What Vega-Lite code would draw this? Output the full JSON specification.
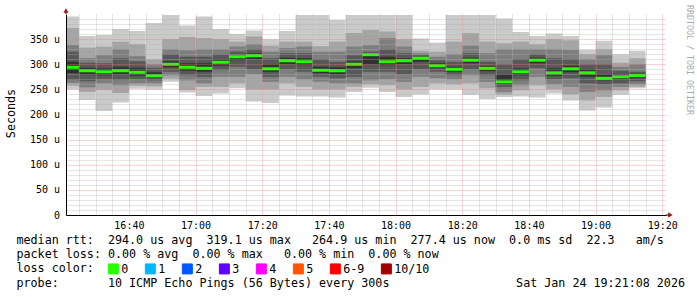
{
  "$schema": "https://vega.github.io/schema/vega-lite/v6.json",
  "width": 600,
  "height": 201,
  "autosize": {"type": "none"},
  "padding": {"left": 66, "top": 14, "right": 31, "bottom": 82},
  "background": "white",
  "title": {"text": "RRDTOOL / TOBI OETIKER", "orient": "right", "anchor": "start", "frame": "group", "angle": 90, "align": "left", "baseline": "middle", "offset": -3.5, "dx": -9, "font": "DejaVu Sans Mono", "fontSize": 8.3, "fontWeight": "normal", "color": "#aaaaaa"},
  "config": {
    "view": {"stroke": null},
    "axis": {"labelFont": "DejaVu Sans Mono", "titleFont": "DejaVu Sans Mono", "labelColor": "#000", "titleColor": "#000", "domainColor": "#000", "domainWidth": 1, "ticks": false, "gridDash": [1, 1], "gridWidth": 1, "labelFontSize": 10, "titleFontSize": 11.7, "titleFontWeight": "normal"}
  },
  "datasets": {
    "pings": [
      {"t0": "2026-01-24T16:20:00", "t1": "2026-01-24T16:25:00", "p1": 250, "p2": 257, "p3": 263, "p4": 269, "p5": 282, "median": 294, "p6": 305, "p7": 325, "p8": 338, "p9": 372, "p10": 395, "loss": "0"},
      {"t0": "2026-01-24T16:25:00", "t1": "2026-01-24T16:30:00", "p1": 229, "p2": 245, "p3": 254, "p4": 266, "p5": 279, "median": 287, "p6": 293, "p7": 303, "p8": 312, "p9": 333, "p10": 356, "loss": "0"},
      {"t0": "2026-01-24T16:30:00", "t1": "2026-01-24T16:35:00", "p1": 207, "p2": 249, "p3": 262, "p4": 270, "p5": 278, "median": 285, "p6": 292, "p7": 302, "p8": 318, "p9": 335, "p10": 358, "loss": "0"},
      {"t0": "2026-01-24T16:35:00", "t1": "2026-01-24T16:40:00", "p1": 224, "p2": 243, "p3": 258, "p4": 269, "p5": 280, "median": 287, "p6": 295, "p7": 312, "p8": 330, "p9": 345, "p10": 370, "loss": "0"},
      {"t0": "2026-01-24T16:40:00", "t1": "2026-01-24T16:45:00", "p1": 251, "p2": 257, "p3": 262, "p4": 270, "p5": 277, "median": 284, "p6": 293, "p7": 306, "p8": 316, "p9": 340, "p10": 366, "loss": "0"},
      {"t0": "2026-01-24T16:45:00", "t1": "2026-01-24T16:50:00", "p1": 250, "p2": 256, "p3": 262, "p4": 268, "p5": 273, "median": 277, "p6": 284, "p7": 293, "p8": 300, "p9": 310, "p10": 382, "loss": "0"},
      {"t0": "2026-01-24T16:50:00", "t1": "2026-01-24T16:55:00", "p1": 265, "p2": 271, "p3": 278, "p4": 285, "p5": 294, "median": 300, "p6": 306, "p7": 320, "p8": 330, "p9": 350, "p10": 398, "loss": "0"},
      {"t0": "2026-01-24T16:55:00", "t1": "2026-01-24T17:00:00", "p1": 244, "p2": 249, "p3": 268, "p4": 278, "p5": 287, "median": 294, "p6": 302, "p7": 315, "p8": 328, "p9": 354, "p10": 377, "loss": "0"},
      {"t0": "2026-01-24T17:00:00", "t1": "2026-01-24T17:05:00", "p1": 237, "p2": 255, "p3": 262, "p4": 275, "p5": 285, "median": 292, "p6": 302, "p7": 315, "p8": 330, "p9": 352, "p10": 395, "loss": "0"},
      {"t0": "2026-01-24T17:05:00", "t1": "2026-01-24T17:10:00", "p1": 242, "p2": 255, "p3": 275, "p4": 288, "p5": 297, "median": 304, "p6": 310, "p7": 320, "p8": 330, "p9": 350, "p10": 370, "loss": "0"},
      {"t0": "2026-01-24T17:10:00", "t1": "2026-01-24T17:15:00", "p1": 252, "p2": 262, "p3": 275, "p4": 295, "p5": 308, "median": 315, "p6": 318, "p7": 325, "p8": 335, "p9": 345, "p10": 360, "loss": "0"},
      {"t0": "2026-01-24T17:15:00", "t1": "2026-01-24T17:20:00", "p1": 226, "p2": 250, "p3": 280, "p4": 290, "p5": 310, "median": 317, "p6": 322, "p7": 330, "p8": 340, "p9": 355, "p10": 367, "loss": "0"},
      {"t0": "2026-01-24T17:20:00", "t1": "2026-01-24T17:25:00", "p1": 223, "p2": 250, "p3": 265, "p4": 275, "p5": 285, "median": 291, "p6": 300, "p7": 312, "p8": 325, "p9": 337, "p10": 350, "loss": "0"},
      {"t0": "2026-01-24T17:25:00", "t1": "2026-01-24T17:30:00", "p1": 238, "p2": 262, "p3": 275, "p4": 290, "p5": 300, "median": 307, "p6": 313, "p7": 322, "p8": 332, "p9": 345, "p10": 366, "loss": "0"},
      {"t0": "2026-01-24T17:30:00", "t1": "2026-01-24T17:35:00", "p1": 236, "p2": 255, "p3": 270, "p4": 285, "p5": 298, "median": 305, "p6": 312, "p7": 322, "p8": 335, "p9": 345, "p10": 398, "loss": "0"},
      {"t0": "2026-01-24T17:35:00", "t1": "2026-01-24T17:40:00", "p1": 236, "p2": 250, "p3": 265, "p4": 275, "p5": 282, "median": 288, "p6": 295, "p7": 310, "p8": 325, "p9": 336, "p10": 398, "loss": "0"},
      {"t0": "2026-01-24T17:40:00", "t1": "2026-01-24T17:45:00", "p1": 234, "p2": 250, "p3": 262, "p4": 272, "p5": 280, "median": 287, "p6": 294, "p7": 305, "p8": 325, "p9": 345, "p10": 388, "loss": "0"},
      {"t0": "2026-01-24T17:45:00", "t1": "2026-01-24T17:50:00", "p1": 245, "p2": 255, "p3": 262, "p4": 275, "p5": 292, "median": 300, "p6": 306, "p7": 318, "p8": 335, "p9": 362, "p10": 398, "loss": "0"},
      {"t0": "2026-01-24T17:50:00", "t1": "2026-01-24T17:55:00", "p1": 253, "p2": 260, "p3": 268, "p4": 285, "p5": 300, "median": 319.1, "p6": 322, "p7": 325, "p8": 338, "p9": 368, "p10": 398, "loss": "0"},
      {"t0": "2026-01-24T17:55:00", "t1": "2026-01-24T18:00:00", "p1": 245, "p2": 258, "p3": 270, "p4": 285, "p5": 298, "median": 305, "p6": 315, "p7": 330, "p8": 352, "p9": 365, "p10": 398, "loss": "0"},
      {"t0": "2026-01-24T18:00:00", "t1": "2026-01-24T18:05:00", "p1": 235, "p2": 250, "p3": 265, "p4": 280, "p5": 300, "median": 307, "p6": 312, "p7": 322, "p8": 335, "p9": 350, "p10": 398, "loss": "0"},
      {"t0": "2026-01-24T18:05:00", "t1": "2026-01-24T18:10:00", "p1": 240, "p2": 255, "p3": 275, "p4": 290, "p5": 305, "median": 312, "p6": 315, "p7": 318, "p8": 322, "p9": 327, "p10": 351, "loss": "0"},
      {"t0": "2026-01-24T18:10:00", "t1": "2026-01-24T18:15:00", "p1": 250, "p2": 262, "p3": 272, "p4": 285, "p5": 292, "median": 297, "p6": 302, "p7": 308, "p8": 315, "p9": 325, "p10": 343, "loss": "0"},
      {"t0": "2026-01-24T18:15:00", "t1": "2026-01-24T18:20:00", "p1": 250, "p2": 260, "p3": 270, "p4": 278, "p5": 285, "median": 290, "p6": 295, "p7": 305, "p8": 320, "p9": 345, "p10": 398, "loss": "0"},
      {"t0": "2026-01-24T18:20:00", "t1": "2026-01-24T18:25:00", "p1": 239, "p2": 262, "p3": 278, "p4": 290, "p5": 302, "median": 308, "p6": 313, "p7": 322, "p8": 337, "p9": 362, "p10": 398, "loss": "0"},
      {"t0": "2026-01-24T18:25:00", "t1": "2026-01-24T18:30:00", "p1": 231, "p2": 252, "p3": 265, "p4": 278, "p5": 286, "median": 292, "p6": 297, "p7": 305, "p8": 322, "p9": 345, "p10": 398, "loss": "0"},
      {"t0": "2026-01-24T18:30:00", "t1": "2026-01-24T18:35:00", "p1": 235, "p2": 240, "p3": 245, "p4": 255, "p5": 260, "median": 264.9, "p6": 280, "p7": 300, "p8": 330, "p9": 342, "p10": 391, "loss": "0"},
      {"t0": "2026-01-24T18:35:00", "t1": "2026-01-24T18:40:00", "p1": 236, "p2": 248, "p3": 258, "p4": 268, "p5": 278, "median": 285, "p6": 292, "p7": 310, "p8": 330, "p9": 345, "p10": 364, "loss": "0"},
      {"t0": "2026-01-24T18:40:00", "t1": "2026-01-24T18:45:00", "p1": 234, "p2": 258, "p3": 275, "p4": 292, "p5": 302, "median": 308, "p6": 313, "p7": 320, "p8": 330, "p9": 340, "p10": 356, "loss": "0"},
      {"t0": "2026-01-24T18:45:00", "t1": "2026-01-24T18:50:00", "p1": 242, "p2": 250, "p3": 260, "p4": 270, "p5": 277, "median": 283, "p6": 292, "p7": 312, "p8": 330, "p9": 350, "p10": 361, "loss": "0"},
      {"t0": "2026-01-24T18:50:00", "t1": "2026-01-24T18:55:00", "p1": 228, "p2": 240, "p3": 255, "p4": 272, "p5": 284, "median": 291, "p6": 297, "p7": 310, "p8": 329, "p9": 348, "p10": 356, "loss": "0"},
      {"t0": "2026-01-24T18:55:00", "t1": "2026-01-24T19:00:00", "p1": 208, "p2": 228, "p3": 245, "p4": 262, "p5": 275, "median": 283, "p6": 290, "p7": 300, "p8": 310, "p9": 320, "p10": 329, "loss": "0"},
      {"t0": "2026-01-24T19:00:00", "t1": "2026-01-24T19:05:00", "p1": 214, "p2": 235, "p3": 248, "p4": 260, "p5": 268, "median": 272, "p6": 280, "p7": 300, "p8": 318, "p9": 330, "p10": 347, "loss": "0"},
      {"t0": "2026-01-24T19:05:00", "t1": "2026-01-24T19:10:00", "p1": 239, "p2": 248, "p3": 255, "p4": 262, "p5": 270, "median": 275, "p6": 280, "p7": 287, "p8": 295, "p9": 303, "p10": 320, "loss": "0"},
      {"t0": "2026-01-24T19:10:00", "t1": "2026-01-24T19:15:00", "p1": 252, "p2": 255, "p3": 260, "p4": 266, "p5": 272, "median": 277.4, "p6": 281, "p7": 285, "p8": 300, "p9": 312, "p10": 327, "loss": "0"}
    ],
    "axisEnds": [
      {"axis": "y", "t": "2026-01-24T16:21:08", "v": 400, "t2": "2026-01-24T16:21:08", "v2": 407, "shape": "triangle-up"},
      {"axis": "x", "t": "2026-01-24T19:21:08", "v": 0, "t2": "2026-01-24T19:22:27", "v2": 0, "shape": "triangle-right"}
    ]
  },
  "data": {"name": "pings"},
  "layer": [
    {
      "mark": {"type": "bar", "color": "#cacaca", "clip": true},
      "encoding": {
        "x": {"field": "t0", "type": "temporal",
          "scale": {"domain": [{"year": 2026, "month": 1, "date": 24, "hours": 16, "minutes": 21, "seconds": 8}, {"year": 2026, "month": 1, "date": 24, "hours": 19, "minutes": 21, "seconds": 8}]},
          "axis": {
            "tickCount": 36,
            "grid": true,
            "gridColor": {"condition": {"test": "minutes(datum.value) % 20 === 0", "value": "#e88080"}, "value": "#b0b0b0"},
            "gridOpacity": 0.65,
            "labelExpr": "minutes(datum.value) % 20 === 0 ? timeFormat(datum.value, '%H:%M') : ''",
            "labelOverlap": false,
            "labelFlush": false,
            "labelPadding": 5,
            "title": ["median\u00a0rtt:\u00a0\u00a0294.0\u00a0us\u00a0avg\u00a0\u00a0319.1\u00a0us\u00a0max\u00a0\u00a0\u00a0264.9\u00a0us\u00a0min\u00a0\u00a0277.4\u00a0us\u00a0now\u00a0\u00a00.0\u00a0ms\u00a0sd\u00a0\u00a022.3\u00a0\u00a0\u00a0am/s",
                      "packet\u00a0loss:\u00a00.00\u00a0%\u00a0avg\u00a0\u00a00.00\u00a0%\u00a0max\u00a0\u00a0\u00a00.00\u00a0%\u00a0min\u00a0\u00a00.00\u00a0%\u00a0now",
                      "loss\u00a0color:",
                      "probe:\u00a0\u00a0\u00a0\u00a0\u00a0\u00a0\u00a010\u00a0ICMP\u00a0Echo\u00a0Pings\u00a0(56\u00a0Bytes)\u00a0every\u00a0300s\u00a0\u00a0\u00a0\u00a0\u00a0\u00a0\u00a0\u00a0\u00a0\u00a0\u00a0\u00a0\u00a0\u00a0\u00a0\u00a0\u00a0\u00a0Sat\u00a0Jan\u00a024\u00a019:21:08\u00a02026"],
            "titleX": -50, "titleY": 19.5, "titleAlign": "left", "titleBaseline": "top", "titleAngle": 0, "titleLineHeight": 14.2,
            "zindex": 1
          }},
        "x2": {"field": "t1"},
        "y": {"field": "p1", "type": "quantitative",
          "scale": {"domain": [0, 400], "nice": false, "zero": true},
          "axis": {
            "values": [0, 10, 20, 30, 40, 50, 60, 70, 80, 90, 100, 110, 120, 130, 140, 150, 160, 170, 180, 190, 200, 210, 220, 230, 240, 250, 260, 270, 280, 290, 300, 310, 320, 330, 340, 350, 360, 370, 380, 390],
            "tickCount": 100,
            "grid": true,
            "gridColor": {"condition": {"test": "datum.value % 50 === 0", "value": "#e88080"}, "value": "#b0b0b0"},
            "gridOpacity": 0.65,
            "labelExpr": "datum.value === 0 ? '0' : (datum.value % 50 === 0 ? datum.value + ' u' : '')",
            "labelOverlap": false,
            "labelFlush": false,
            "labelPadding": 6.5,
            "title": "Seconds", "titleX": -56, "titleY": 99, "titleAngle": -90, "titleAlign": "center", "titleBaseline": "middle",
            "zindex": 1
          }},
        "y2": {"field": "p10"}
      }
    },
    {
      "mark": {"type": "bar", "color": "#a4a4a4", "clip": true},
      "encoding": {
        "x": {"field": "t0", "type": "temporal"}, "x2": {"field": "t1"},
        "y": {"field": "p2", "type": "quantitative"}, "y2": {"field": "p9"}
      }
    },
    {
      "mark": {"type": "bar", "color": "#7e7e7e", "clip": true},
      "encoding": {
        "x": {"field": "t0", "type": "temporal"}, "x2": {"field": "t1"},
        "y": {"field": "p3", "type": "quantitative"}, "y2": {"field": "p8"}
      }
    },
    {
      "mark": {"type": "bar", "color": "#585858", "clip": true},
      "encoding": {
        "x": {"field": "t0", "type": "temporal"}, "x2": {"field": "t1"},
        "y": {"field": "p4", "type": "quantitative"}, "y2": {"field": "p7"}
      }
    },
    {
      "mark": {"type": "bar", "color": "#323232", "clip": true},
      "encoding": {
        "x": {"field": "t0", "type": "temporal"}, "x2": {"field": "t1"},
        "y": {"field": "p5", "type": "quantitative"}, "y2": {"field": "p6"}
      }
    },
    {
      "mark": {"type": "rule", "strokeWidth": 3, "clip": true},
      "encoding": {
        "x": {"field": "t0", "type": "temporal"}, "x2": {"field": "t1"},
        "y": {"field": "median", "type": "quantitative"},
        "color": {"field": "loss", "type": "nominal",
          "scale": {"domain": ["0", "1", "2", "3", "4", "5", "6-9", "10/10"], "range": ["#26ff00", "#00b8ff", "#0059ff", "#5e00ff", "#ff00ff", "#ff5500", "#ff0000", "#a10000"]},
          "legend": {
            "orient": "none", "legendX": 41.5, "legendY": 249, "direction": "horizontal", "columns": 8,
            "title": null,
            "labelFont": "DejaVu Sans Mono", "labelFontSize": 11.7, "labelColor": "#000", "labelOffset": 2,
            "columnPadding": 14, "padding": 0,
            "symbolType": "square", "symbolSize": 100, "symbolStrokeWidth": 1, "symbolStrokeColor": "#000", "symbolOpacity": 1,
            "encode": {"symbols": {"update": {"fill": {"scale": "color", "field": "value"}, "stroke": {"value": "#000"}, "strokeWidth": {"value": 1}, "opacity": {"value": 1}, "fillOpacity": {"value": 1}}}}
          }}
      }
    },
    {
      "data": {"name": "axisEnds"},
      "mark": {"type": "rule", "color": "#000", "strokeWidth": 1},
      "encoding": {
        "x": {"field": "t", "type": "temporal"}, "x2": {"field": "t2"},
        "y": {"field": "v", "type": "quantitative"}, "y2": {"field": "v2"}
      }
    },
    {
      "data": {"name": "axisEnds"},
      "mark": {"type": "point", "filled": true, "color": "#9a1a1a", "opacity": 1, "size": 28},
      "encoding": {
        "x": {"field": "t2", "type": "temporal"},
        "y": {"field": "v2", "type": "quantitative"},
        "shape": {"field": "shape", "type": "nominal", "scale": null}
      }
    }
  ]
}
